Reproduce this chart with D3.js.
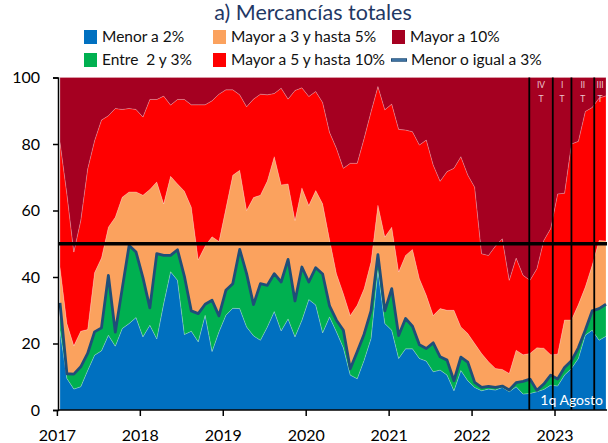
<!DOCTYPE html>
<html>
<head>
<meta charset="utf-8">
<script src="https://cdn.jsdelivr.net/npm/d3@7"></script>
<style>
  html, body { margin: 0; padding: 0; background: #fff; }
  svg { display: block; font-family: Lato, "Open Sans", sans-serif; }
  svg text { white-space: pre; }
</style>
</head>
<body>
<svg id="chart" width="608" height="443"></svg>
<script>
// Monthly periods, January 2017 through the first fortnight of August 2023
const months = d3.timeMonth.range(new Date(2017, 0, 1), new Date(2023, 7, 2));

// Share of items (%) by annual price change range
const menor2 = [24, 9.5, 6.3, 7, 11.9, 16.5, 17.8, 22.5, 19.2, 24.5, 26, 27.8, 22, 25.5, 21.4, 32, 41.6, 39, 22.7, 23.7,
  20.5, 28.5, 17.6, 23.5, 28.5, 30.6, 30.5, 25, 22.3, 21, 25, 29.6, 23.8, 27.4, 22, 27, 33.2, 31.6, 23.2, 28,
  23.5, 18.7, 10.5, 9.4, 15, 21.5, 42, 26, 24, 15.5, 18.4, 18.4, 15.5, 14.7, 11.5, 12, 10.5, 5.8, 11.9, 8.8,
  6.8, 5.8, 6.3, 6, 6.8, 5.5, 7, 4.8, 5, 5.5, 6.2, 7.5, 7.2, 10.5, 12.5, 15.5, 22.5, 24, 21, 22.2];
const entre2y3 = [8.2, 1.4, 4.5, 6, 5.1, 7, 6.9, 18, 4.2, 12, 23.5, 19.7, 17.8, 5.2, 25.6, 14.5, 4.9, 9.2, 17.5, 6.1,
  8.5, 3.3, 15.4, 4.8, 7.5, 7.4, 17.8, 16, 9.4, 17, 12.5, 11.4, 14.7, 17.9, 10.8, 16, 5.3, 11.2, 17.7, 3.3,
  3.5, 5.3, 1.9, 8.1, 7.8, 8.3, 4.7, 3.8, 12.5, 6.9, 9.1, 6.8, 4.1, 3.8, 8.7, 4, 4.5, 3, 4, 5.6,
  1.5, 1, 0.8, 0.8, 0.4, 0.5, 1.2, 3.8, 4.3, 0.4, 1.6, 3, 2.1, 2.3, 2.3, 3.2, 1.5, 5.8, 9.5, 9.6];
const mayor3a5 = [10.8, 15.1, 8.5, 10.7, 7.2, 17.8, 21, 14.5, 34.6, 27.5, 16.1, 18.1, 24.8, 35.6, 21.6, 15.5, 23.8, 19.8, 25.6, 31.2,
  16.2, 17.5, 19.1, 22.4, 24.6, 32.6, 23.8, 19, 32.2, 26.6, 31.4, 35.2, 29.2, 22.7, 24.2, 23.8, 23, 23.2, 21.1, 20,
  14, 11, 16, 14, 13.7, 14.7, 14.9, 22.2, 18.5, 19.1, 19, 23.1, 19.9, 16, 8.2, 14.5, 15, 21.2, 9.1, 8.6,
  11.7, 10.2, 7.4, 5.7, 5, 5, 9.8, 8, 7.7, 12.8, 10.8, 6.1, 7.5, 14.3, 12.3, 13, 13, 13.7, 20.5, 19];
const mayor5a10 = [37.6, 39, 28.2, 33.3, 48.3, 39.7, 41.5, 33.5, 32.7, 26.4, 25.1, 24.8, 23.5, 27.1, 24.8, 32.4, 21.4, 25.4, 27.6, 30.8,
  46.6, 42.5, 40.9, 44.3, 35.7, 25.7, 22.7, 31.2, 29.6, 30.4, 25.9, 19, 29.1, 25.5, 39.1, 30.1, 32.8, 29.8, 30.5, 32.2,
  37.7, 37.7, 45.8, 42.7, 45.2, 45.2, 35.7, 38.3, 37, 42.9, 37.7, 35.4, 40.2, 46.7, 45.3, 38.3, 41.7, 42.7, 51.2, 47.7,
  47, 30, 32, 36.8, 39.3, 28, 27.7, 23.9, 22, 23.8, 32.4, 38, 48.2, 38.1, 52.9, 49.1, 52.8, 47.5, 42.8, 43.7];
const mayor10 = [19.4, 35, 52.5, 43, 27.5, 19, 12.8, 11.5, 9.3, 9.6, 9.3, 9.6, 11.9, 6.6, 6.6, 5.6, 8.3, 6.6, 6.6, 8.2,
  8.2, 8.2, 7, 5, 3.7, 3.7, 5.2, 8.8, 6.5, 5, 5.2, 4.8, 3.2, 6.5, 3.9, 3.1, 5.7, 4.2, 7.5, 16.5,
  21.3, 27.3, 25.8, 25.8, 18.3, 10.3, 2.7, 9.7, 8, 15.6, 15.8, 16.3, 20.3, 18.8, 26.3, 31.2, 28.3, 27.3, 23.8, 29.3,
  33, 53, 53.5, 50.7, 48.5, 61, 54.3, 59.5, 61, 57.5, 49, 45.4, 35, 34.8, 20, 19.2, 10.2, 9, 6.2, 5.5];

// Year ticks (month index of each January) and their labels
const yearStarts = [0, 12, 24, 36, 48, 60, 72];
const yearLabels = ["2017", "2018", "2019", "2020", "2021", "2022", "2023"];
const yTicks = [0, 20, 40, 60, 80, 100];

// Quarter markers (month index) and their labels
const quarterMarks = [67.9, 71.3, 74.0, 77.3];
const quarterLabels = ["IV", "I", "II", "III"];
const referenceLevel = 50;
const lastLabel = "1q Agosto";

const seriesKeys = ["menor2", "entre2y3", "mayor3a5", "mayor5a10", "mayor10"];
const seriesNames = {
  menor2: "Menor a 2%", entre2y3: "Entre  2 y 3%", mayor3a5: "Mayor a 3 y hasta 5%",
  mayor5a10: "Mayor a 5 y hasta 10%", mayor10: "Mayor a 10%"
};
const colors = {
  menor2: "#0070C0", entre2y3: "#00B050", mayor3a5: "#FBA25E",
  mayor5a10: "#FF0000", mayor10: "#A50021"
};
const lineColor = "#1F4E79";

const rows = months.map((m, i) => ({
  date: m, idx: i,
  menor2: menor2[i], entre2y3: entre2y3[i], mayor3a5: mayor3a5[i],
  mayor5a10: mayor5a10[i], mayor10: mayor10[i]
}));
const menorIgual3 = rows.map(r => r.menor2 + r.entre2y3);

const svg = d3.select("#chart");

const x = d3.scaleLinear().domain([0, rows.length - 1]).range([60, 606]);
const y = d3.scaleLinear().domain([0, 100]).range([410, 77.5]);
const plotLeft = 58, plotRight = 607;

// Stacked areas
const stacked = d3.stack().keys(seriesKeys)(rows);
const area = d3.area()
  .x((d, i) => x(i))
  .y0(d => y(d[0]))
  .y1(d => y(d[1]));

svg.append("g").selectAll("path")
  .data(stacked)
  .join("path")
  .attr("d", area)
  .attr("fill", d => colors[d.key])
  .attr("stroke", "rgba(255,255,255,0.35)")
  .attr("stroke-width", 0.6);

// Line: share at or below 3%
svg.append("path")
  .datum(menorIgual3)
  .attr("d", d3.line().x((d, i) => x(i)).y(d => y(d)))
  .attr("fill", "none")
  .attr("stroke", lineColor)
  .attr("stroke-width", 2.8)
  .attr("stroke-linejoin", "round");

// Quarter separators
svg.append("g").selectAll("line")
  .data(quarterMarks)
  .join("line")
  .attr("x1", d => x(d)).attr("x2", d => x(d))
  .attr("y1", y(100)).attr("y2", y(0))
  .attr("stroke", "#000").attr("stroke-width", 1.8);

const qEnds = quarterMarks.slice(1).concat([rows.length - 1]);
const qg = svg.append("g")
  .attr("font-size", 8.5).attr("fill", "#ecc6cf").attr("text-anchor", "middle");
quarterMarks.forEach((q, k) => {
  const cx = (x(q) + x(qEnds[k])) / 2;
  qg.append("text").attr("x", cx).attr("y", 88).text(quarterLabels[k]);
  qg.append("text").attr("x", cx).attr("y", 102).text("T");
});

// 50% reference line
svg.append("line")
  .attr("x1", plotLeft).attr("x2", plotRight)
  .attr("y1", y(referenceLevel)).attr("y2", y(referenceLevel))
  .attr("stroke", "#000").attr("stroke-width", 3.6);

// Label for last observation
svg.append("text")
  .attr("x", 603).attr("y", 405)
  .attr("text-anchor", "end")
  .attr("font-size", 14).attr("fill", "#fff")
  .text(lastLabel);

// Axes
const yAxis = svg.append("g")
  .attr("transform", `translate(${plotLeft},0)`)
  .call(d3.axisLeft(y).tickValues(yTicks).tickSize(5).tickPadding(13));
yAxis.select(".domain").attr("stroke", "#000").attr("stroke-width", 1.5);
yAxis.selectAll(".tick line").attr("stroke", "#000").attr("stroke-width", 1.5);
yAxis.selectAll("text").attr("font-size", 16).attr("fill", "#000")
  .attr("font-family", "Lato, sans-serif");

const xAxis = svg.append("g")
  .attr("transform", `translate(0,${y(0)})`)
  .call(d3.axisBottom(x)
    .tickValues(yearStarts.map(v => v - 0.45))
    .tickFormat((d, i) => yearLabels[i])
    .tickSize(6).tickPadding(14));
xAxis.select(".domain").attr("d", `M${plotLeft},0H${plotRight}`)
  .attr("stroke", "#000").attr("stroke-width", 1.5);
xAxis.selectAll(".tick line").attr("stroke", "#000").attr("stroke-width", 1.5);
xAxis.selectAll("text").attr("font-size", 16).attr("fill", "#000")
  .attr("font-family", "Lato, sans-serif");

// Title
svg.append("text")
  .attr("x", 313).attr("y", 20)
  .attr("text-anchor", "middle")
  .attr("font-size", 21.5).attr("fill", "#1F3864")
  .text("a) Mercancías totales");

// Legend
const legendItems = [
  { key: "menor2", x: 84, y: 37 },
  { key: "mayor3a5", x: 213, y: 37 },
  { key: "mayor10", x: 392, y: 37 },
  { key: "entre2y3", x: 84, y: 60 },
  { key: "mayor5a10", x: 213, y: 60 },
  { key: "linea", x: 392, y: 60 }
];
const lg = svg.append("g").attr("font-size", 15.5).attr("fill", "#111");
legendItems.forEach(it => {
  if (it.key === "linea") {
    lg.append("line")
      .attr("x1", it.x - 1).attr("x2", it.x + 15)
      .attr("y1", it.y).attr("y2", it.y)
      .attr("stroke", lineColor).attr("stroke-width", 3.5);
    lg.append("line")
      .attr("x1", it.x).attr("x2", it.x + 14)
      .attr("y1", it.y).attr("y2", it.y)
      .attr("stroke", "#4A7FB0").attr("stroke-width", 1.5);
    lg.append("text").attr("x", it.x + 19).attr("y", it.y).attr("dy", "0.35em")
      .text("Menor o igual a 3%");
  } else {
    lg.append("rect")
      .attr("x", it.x).attr("y", it.y - 7)
      .attr("width", 13).attr("height", 14)
      .attr("fill", colors[it.key]);
    lg.append("text").attr("x", it.x + 18).attr("y", it.y).attr("dy", "0.35em")
      .text(seriesNames[it.key]);
  }
});
</script>
</body>
</html>
